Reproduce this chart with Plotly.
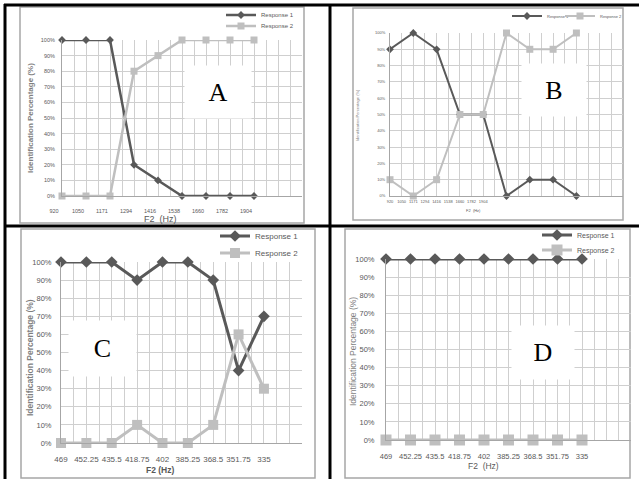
import plotly.graph_objects as go

# ---------------- data ----------------
f2_ab = ["920", "1050", "1171", "1294", "1416", "1538", "1660", "1782", "1904"]
f2_cd = ["469", "452.25", "435.5", "418.75", "402", "385.25", "368.5", "351.75", "335"]

a_r1 = [100, 100, 100, 20, 10, 0, 0, 0, 0]
a_r2 = [0, 0, 0, 80, 90, 100, 100, 100, 100]
b_r1 = [90, 100, 90, 50, 50, 0, 10, 10, 0]
b_r2 = [10, 0, 10, 50, 50, 100, 90, 90, 100]
c_r1 = [100, 100, 100, 90, 100, 100, 90, 40, 70]
c_r2 = [0, 0, 0, 10, 0, 0, 10, 60, 30]
d_r1 = [100, 100, 100, 100, 100, 100, 100, 100, 100]
d_r2 = [0, 0, 0, 0, 0, 0, 0, 0, 0]

y_vals = [0, 10, 20, 30, 40, 50, 60, 70, 80, 90, 100]
y_text = ["0%", "10%", "20%", "30%", "40%", "50%", "60%", "70%", "80%", "90%", "100%"]
series_names = ["Response 1", "Response 2"]

W, H = 639, 479
DARK = "#595959"
LIGHT = "#bfbfbf"
GRID = "#cfcfcf"
TXT = "#595959"


def px_x(p):
    return p / W


def px_y(p):
    return 1 - p / H


fig = go.Figure()

# panel geometry in pixels
panels = {
    "A": dict(x0=62, x1=302, yt=40, yb=196, xmax=10),
    "B": dict(x0=390, x1=623, yt=33, yb=196, xmax=10),
    "C": dict(x0=61, x1=302, yt=262, yb=443, xmax=9.5),
    "D": dict(x0=386, x1=631, yt=259, yb=440, xmax=10),
}

idx = list(range(len(f2_ab)))

data = {
    "A": (a_r1, a_r2),
    "B": (b_r1, b_r2),
    "C": (c_r1, c_r2),
    "D": (d_r1, d_r2),
}

style = {
    "A": dict(lw=2.5, ms1=6, ms2=7, tick=5.5, lg=6),
    "B": dict(lw=2, ms1=6, ms2=7, tick=4, lg=4),
    "C": dict(lw=3, ms1=9, ms2=10, tick=8, lg=8),
    "D": dict(lw=3, ms1=9, ms2=11, tick=7.5, lg=7),
}

legend_pos = {
    "A": [(221, 15), (221, 26)],
    "B": [(507, 16), (560, 16)],
    "C": [(215, 236), (215, 253)],
    "D": [(537, 235), (537, 250)],
}

legend_n = 0
for k, key in enumerate(["A", "B", "C", "D"]):
    g = panels[key]
    st = style[key]
    ax = "" if k == 0 else str(k + 1)
    r1, r2 = data[key]
    for j, (vals, col, sym, ms) in enumerate(
        [(r1, DARK, "diamond", st["ms1"]), (r2, LIGHT, "square", st["ms2"])]
    ):
        legend_n += 1
        lname = "legend" if legend_n == 1 else "legend%d" % legend_n
        fig.add_trace(
            go.Scatter(
                x=idx,
                y=vals,
                mode="lines+markers",
                name=series_names[j],
                line=dict(color=col, width=st["lw"]),
                marker=dict(symbol=sym, size=ms, color=col),
                xaxis="x" + ax,
                yaxis="y" + ax,
                cliponaxis=False,
                legend=lname,
                showlegend=True,
            )
        )
        lx, ly = legend_pos[key][j]
        fig.update_layout(
            {
                lname: dict(
                    x=px_x(lx),
                    y=px_y(ly),
                    xanchor="left",
                    yanchor="middle",
                    bgcolor="rgba(0,0,0,0)",
                    font=dict(size=st["lg"], color=TXT, family="Liberation Sans, sans-serif"),
                    itemwidth=30,
                    tracegroupgap=0,
                )
            }
        )

    # x ticks every half category (gridlines)
    n_half = int(g["xmax"] * 2) + 1
    tv = [h / 2 for h in range(n_half)]
    if key == "B":
        tt = [f2_ab[h] if h < len(f2_ab) else "" for h in range(n_half)]
    elif key == "A":
        tt = [f2_ab[h // 2] if (h % 2 == 0 and h // 2 < len(f2_ab)) else "" for h in range(n_half)]
    else:
        tt = [f2_cd[h // 2] if (h % 2 == 0 and h // 2 < len(f2_cd)) else "" for h in range(n_half)]

    fam = "Liberation Sans, sans-serif"
    xa = dict(
        domain=[px_x(g["x0"]), px_x(g["x1"])],
        range=[0, g["xmax"]],
        tickmode="array",
        tickvals=tv,
        ticktext=tt,
        tickangle=0,
        showgrid=True,
        gridcolor=GRID,
        gridwidth=1,
        zeroline=False,
        showline=True,
        linecolor="#a6a6a6",
        ticks="",
        automargin=False,
        tickfont=dict(size=st["tick"], color=TXT, family=fam),
        anchor="y" + ax,
        ticklabelstandoff={"A": 9, "B": 1, "C": 8, "D": 9}[key],
    )
    if key == "A":
        xa["ticklabelshift"] = -8
    ya = dict(
        domain=[px_y(g["yb"]), px_y(g["yt"])],
        range=[0, 100],
        tickmode="array",
        tickvals=y_vals,
        ticktext=y_text,
        showgrid=True,
        gridcolor=GRID,
        gridwidth=1,
        zeroline=False,
        showline=True,
        linecolor="#a6a6a6",
        ticks="",
        automargin=False,
        tickfont=dict(size=st["tick"] - (0.5 if key == "C" else 0), color=TXT, family=fam),
        anchor="x" + ax,
        ticklabelstandoff={"A": 5, "B": 3, "C": 7, "D": 9}[key],
    )
    fig.update_layout({"xaxis" + ax: xa, "yaxis" + ax: ya})

# ---------- frames & table lines ----------
shapes = []
frames = [(20, 7, 304, 223), (353, 8, 623, 220), (21, 229, 315, 478), (345, 229, 630, 478)]
for (x0, y0, x1, y1) in frames:
    shapes.append(dict(type="rect", xref="paper", yref="paper",
                       x0=px_x(x0), x1=px_x(x1), y0=px_y(y1), y1=px_y(y0),
                       line=dict(color="#a6a6a6", width=1.5), layer="below"))
black_lines = [
    (4, 5, 639, 5),      # top border
    (5, 4, 5, 479),      # left border
    (4, 226, 639, 226),  # horizontal divider
    (330, 4, 330, 479),  # vertical divider
]
for (x0, y0, x1, y1) in black_lines:
    shapes.append(dict(type="line", xref="paper", yref="paper",
                       x0=px_x(x0), x1=px_x(x1), y0=px_y(y0), y1=px_y(y1),
                       line=dict(color="black", width=3), layer="above"))
fig.update_layout(shapes=shapes)

# ---------- annotations ----------
ann = []
letter_boxes = [("A", 218, 92, 64, 50), ("B", 554, 90, 62, 50), ("C", 102, 348, 65, 53), ("D", 543, 352, 60, 51)]
for (t, cx, cy, w, h) in letter_boxes:
    ann.append(dict(text=t, x=px_x(cx), y=px_y(cy), xref="paper", yref="paper",
                    showarrow=False, bgcolor="white", width=w, height=h,
                    xanchor="center", yanchor="middle",
                    font=dict(family="Liberation Serif, serif", size=26, color="black")))

ytitles = [(30, 118, 8, True), (358, 115, 4, False), (30, 358, 8.5, True), (353, 352, 8.5, False)]
for (cx, cy, s, b) in ytitles:
    t = "Identification Percentage (%)"
    ann.append(dict(text="<b>%s</b>" % t if b else t, x=px_x(cx), y=px_y(cy),
                    xref="paper", yref="paper", showarrow=False, textangle=-90,
                    xanchor="center", yanchor="middle",
                    font=dict(family="Liberation Sans, sans-serif", size=s, color="#7f7f7f")))

xtitles = [(160, 219, 9, False), (473, 210, 4, False), (160, 470, 8.5, True), (483, 466, 8.5, False)]
for (cx, cy, s, b) in xtitles:
    ann.append(dict(text="<b>F2 (Hz)</b>" if b else "F2  (Hz)", x=px_x(cx), y=px_y(cy),
                    xref="paper", yref="paper", showarrow=False,
                    xanchor="center", yanchor="middle",
                    font=dict(family="Liberation Sans, sans-serif", size=s, color=TXT)))
fig.update_layout(annotations=ann)

fig.update_layout(
    width=W, height=H,
    margin=dict(l=0, r=0, t=0, b=0, pad=0, autoexpand=False),
    paper_bgcolor="white",
    plot_bgcolor="white",
)

fig.write_html(
    "out.html",
    config={"displayModeBar": False},
    post_script="document.body.style.margin='0';document.body.style.padding='0';",
)
